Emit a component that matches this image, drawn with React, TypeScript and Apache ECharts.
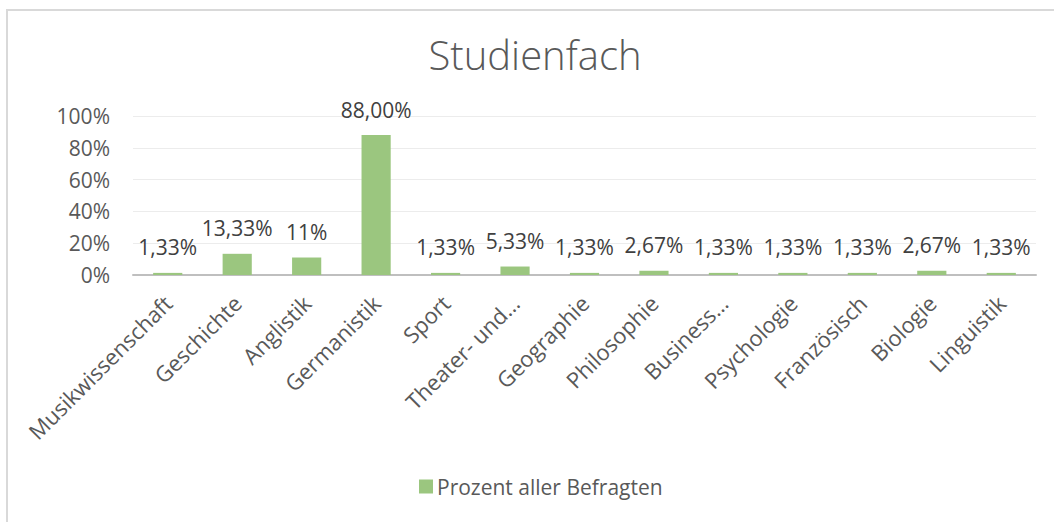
import React, { useEffect, useRef } from "react";
import * as echarts from "echarts";

const categories = [
  "Musikwissenschaft",
  "Geschichte",
  "Anglistik",
  "Germanistik",
  "Sport",
  "Theater- und…",
  "Geographie",
  "Philosophie",
  "Business…",
  "Psychologie",
  "Französisch",
  "Biologie",
  "Linguistik",
];
const values = [1.33, 13.33, 11, 88, 1.33, 5.33, 1.33, 2.67, 1.33, 1.33, 1.33, 2.67, 1.33];
const valueLabels = [
  "1,33%", "13,33%", "11%", "88,00%", "1,33%", "5,33%", "1,33%",
  "2,67%", "1,33%", "1,33%", "1,33%", "2,67%", "1,33%",
];
const seriesName = "Prozent aller Befragten";
const chartTitle = "Studienfach";

const FONT = "'Open Sans', sans-serif";

export default function App() {
  const ref = useRef<HTMLDivElement>(null);
  useEffect(() => {
    if (!ref.current) return;
    const chart = echarts.init(ref.current, null, { renderer: "svg" });
    chart.setOption({
      animation: false,
      backgroundColor: "#ffffff",
      textStyle: { fontFamily: FONT },
      graphic: [
        {
          type: "rect",
          shape: { x: 7, y: 10, width: 1200, height: 700 },
          style: { fill: "none", stroke: "#d9d9d9", lineWidth: 2 },
          silent: true,
          z: -10,
        },
        {
          type: "text",
          x: 535,
          y: 54,
          style: {
            text: chartTitle,
            fontSize: 40,
            fontWeight: 300,
            fontFamily: FONT,
            fill: "#595959",
            align: "center",
            verticalAlign: "middle",
          },
        },
      ],
      legend: {
        show: true,
        left: 419,
        top: 476,
        padding: 0,
        itemWidth: 14,
        itemHeight: 14,
        itemGap: 10,
        icon: "rect",
        textStyle: { fontSize: 21, color: "#595959", fontFamily: FONT, padding: [0, 0, 0, -1] },
        data: [seriesName],
      },
      grid: { left: 133, right: 18, top: 116, bottom: 247, containLabel: false },
      xAxis: {
        type: "category",
        data: categories,
        axisLine: { show: true, lineStyle: { color: "#bfbfbf", width: 2 } },
        axisTick: { show: false },
        axisLabel: {
          rotate: 45,
          interval: 0,
          margin: 24,
          verticalAlign: "middle",
          fontSize: 22,
          color: "#595959",
          fontFamily: FONT,
        },
      },
      yAxis: {
        type: "value",
        min: 0,
        max: 100,
        interval: 20,
        axisLine: { show: false },
        axisTick: { show: false },
        splitLine: { show: true, lineStyle: { color: "#ececec", width: 1 } },
        axisLabel: {
          formatter: "{value}%",
          margin: 23,
          fontSize: 21,
          color: "#595959",
          fontFamily: FONT,
        },
      },
      series: [
        {
          name: seriesName,
          type: "bar",
          data: values,
          barWidth: "42%",
          itemStyle: { color: "#9bc67f" },
          label: {
            show: true,
            position: "top",
            distance: 15,
            fontSize: 21,
            color: "#404040",
            fontFamily: FONT,
            formatter: (p: any) => valueLabels[p.dataIndex],
          },
        },
      ],
    });
    return () => chart.dispose();
  }, []);
  return (
    <div
      ref={ref}
      style={{ position: "fixed", left: 0, top: 0, width: 1054, height: 522 }}
    />
  );
}
